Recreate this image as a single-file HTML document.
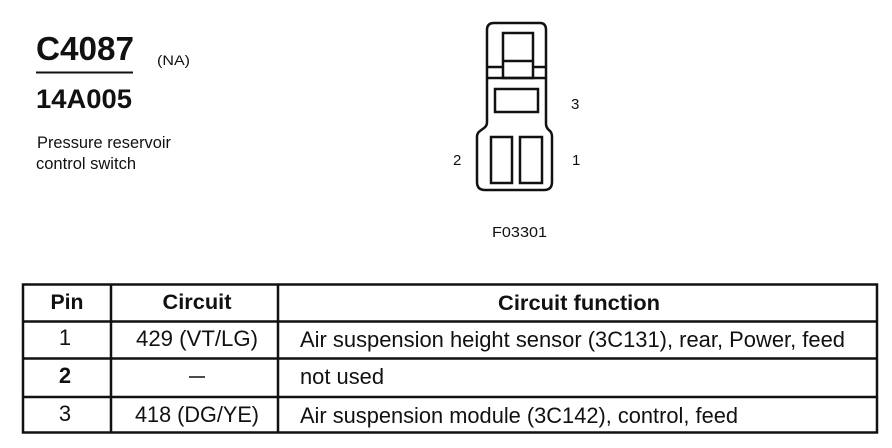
<!DOCTYPE html>
<html>
<head>
<meta charset="utf-8">
<style>
html,body{margin:0;padding:0;background:#fff;}
body{width:892px;height:448px;overflow:hidden;}
svg{display:block;}
text{font-family:"Liberation Sans",sans-serif;fill:#111;}
.b{font-weight:bold;}
</style>
</head>
<body>
<svg width="892" height="448" viewBox="0 0 892 448" xmlns="http://www.w3.org/2000/svg">
<rect width="892" height="448" fill="#fff"/>

<!-- Title block -->
<text x="36" y="60" class="b" font-size="33" textLength="98" lengthAdjust="spacingAndGlyphs">C4087</text>
<text x="157" y="65" font-size="14" textLength="33" lengthAdjust="spacingAndGlyphs">(NA)</text>
<line x1="36" y1="72.500" x2="133" y2="72.500" stroke="#111" stroke-width="2"/>
<text x="36" y="108" class="b" font-size="27" textLength="96" lengthAdjust="spacingAndGlyphs">14A005</text>
<text x="37" y="148" font-size="16.500" textLength="134" lengthAdjust="spacingAndGlyphs">Pressure reservoir</text>
<text x="36" y="169" font-size="16.500" textLength="100" lengthAdjust="spacingAndGlyphs">control switch</text>

<!-- Connector -->
<g fill="none" stroke="#111" stroke-width="2.500">
<path d="M487 30 Q487 23 494 23 L540 23 Q546 23 546 30 L546 124 Q546 128 550 131 Q552 133 552 137 L552 182 Q552 190 544 190 L485 190 Q477 190 477 182 L477 137 Q477 133 480 131 L484 128 Q487 126 487 122 Z"/>
<line x1="487" y1="67" x2="503" y2="67"/>
<line x1="533" y1="67" x2="546" y2="67"/>
<line x1="487" y1="78" x2="546" y2="78"/>
<rect x="503" y="33" width="30" height="45"/>
<line x1="503" y1="61" x2="533" y2="61"/>
<rect x="495" y="89" width="43" height="23"/>
<rect x="491" y="137" width="21" height="46"/>
<rect x="520" y="137" width="22" height="46"/>
</g>
<text x="571" y="109" font-size="15">3</text>
<text x="453" y="165" font-size="15">2</text>
<text x="572" y="165" font-size="15">1</text>
<text x="492" y="237" font-size="15" textLength="55" lengthAdjust="spacingAndGlyphs">F03301</text>

<!-- Table -->
<g stroke="#111" stroke-width="2.500" fill="none">
<rect x="23" y="284.500" width="854" height="148"/>
<line x1="23" y1="321.500" x2="877" y2="321.500"/>
<line x1="23" y1="358.500" x2="877" y2="358.500"/>
<line x1="23" y1="397" x2="877" y2="397"/>
<line x1="111" y1="284.500" x2="111" y2="432.500"/>
<line x1="278" y1="284.500" x2="278" y2="432.500"/>
</g>

<text x="67" y="309" class="b" font-size="21" text-anchor="middle" textLength="33" lengthAdjust="spacingAndGlyphs">Pin</text>
<text x="197" y="309" class="b" font-size="21" text-anchor="middle" textLength="69" lengthAdjust="spacingAndGlyphs">Circuit</text>
<text x="579" y="310" class="b" font-size="21" text-anchor="middle" textLength="162" lengthAdjust="spacingAndGlyphs">Circuit function</text>

<text x="65" y="345" font-size="22" text-anchor="middle">1</text>
<text x="197" y="346" font-size="22" text-anchor="middle" textLength="122" lengthAdjust="spacingAndGlyphs">429 (VT/LG)</text>
<text x="300" y="347" font-size="22" textLength="545" lengthAdjust="spacingAndGlyphs">Air suspension height sensor (3C131), rear, Power, feed</text>

<text x="65" y="383" class="b" font-size="22" text-anchor="middle">2</text>
<line x1="189" y1="377" x2="205" y2="377" stroke="#111" stroke-width="1.500"/>
<text x="300" y="384" font-size="22" textLength="84" lengthAdjust="spacingAndGlyphs">not used</text>

<text x="65" y="421" font-size="22" text-anchor="middle">3</text>
<text x="197" y="422" font-size="22" text-anchor="middle" textLength="124" lengthAdjust="spacingAndGlyphs">418 (DG/YE)</text>
<text x="300" y="423" font-size="22" textLength="438" lengthAdjust="spacingAndGlyphs">Air suspension module (3C142), control, feed</text>
</svg>
</body>
</html>
